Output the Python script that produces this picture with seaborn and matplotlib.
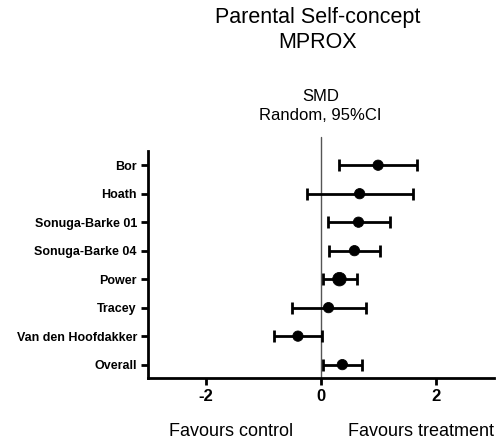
import matplotlib
matplotlib.use("Agg")
import matplotlib.pyplot as plt
import seaborn as sns
import pandas as pd
import numpy as np

studies = ["Bor", "Hoath", "Sonuga-Barke 01", "Sonuga-Barke 04", "Power", "Tracey",
           "Van den Hoofdakker", "Overall"]
smd = [0.99, 0.67, 0.65, 0.58, 0.32, 0.13, -0.40, 0.37]
ci_low = [0.31, -0.25, 0.12, 0.13, 0.04, -0.50, -0.82, 0.04]
ci_high = [1.67, 1.59, 1.19, 1.03, 0.62, 0.78, 0.02, 0.71]
weight = [1, 1, 1, 1, 2, 1, 1, 1]
xticks = [-2, 0, 2]

sns.set_theme(style="ticks")
plt.rcParams['font.family'] = ['Liberation Sans', 'DejaVu Sans']
plt.rcParams['text.color'] = 'black'
plt.rcParams['xtick.color'] = 'black'
plt.rcParams['ytick.color'] = 'black'

df = pd.DataFrame({"study": studies, "smd": smd, "lo": ci_low, "hi": ci_high, "w": weight})
df["pos"] = np.arange(len(df))

fig = plt.figure(figsize=(4.99, 4.43), dpi=100)
ax = fig.add_axes([0.2966, 0.1467, 0.6934, 0.5125])

ax.axvline(0, ymin=0, ymax=1.062, color="#555555", lw=1.0, clip_on=False, zorder=1)

ax.errorbar(df["smd"], df["pos"],
            xerr=[df["smd"] - df["lo"], df["hi"] - df["smd"]],
            fmt="none", ecolor="black", elinewidth=2, capsize=4, capthick=2, zorder=2)
sns.scatterplot(data=df, x="smd", y="pos", size="w", sizes={1: 55, 2: 95},
                color="black", edgecolor="black", legend=False, ax=ax, zorder=3)

ax.set_xlim(-3, 3)
ax.set_ylim(7.47, -0.5)
ax.set_yticks(df["pos"])
ax.set_yticklabels(studies, fontsize=9, fontweight="bold")
ax.set_xticks(xticks)
ax.set_xticklabels([str(t) for t in xticks], fontsize=12, fontweight="bold")
ax.set_xlabel("")
ax.set_ylabel("")
sns.despine(ax=ax)
for s in ["left", "bottom"]:
    ax.spines[s].set_linewidth(2)
    ax.spines[s].set_color("black")
ax.tick_params(axis="both", length=5, width=2, color="black", labelcolor="black", pad=3)

fig.text(0.636, 0.960, "Parental Self-concept", ha="center", va="center", fontsize=15.5)
fig.text(0.636, 0.903, "MPROX", ha="center", va="center", fontsize=15.5)
fig.text(0.642, 0.783, "SMD", ha="center", va="center", fontsize=12)
fig.text(0.642, 0.740, "Random, 95%CI", ha="center", va="center", fontsize=12)
fig.text(0.464, 0.025, "Favours control", ha="center", va="center", fontsize=13)
fig.text(0.843, 0.025, "Favours treatment", ha="center", va="center", fontsize=13)

fig.savefig("out.png", dpi=100)
